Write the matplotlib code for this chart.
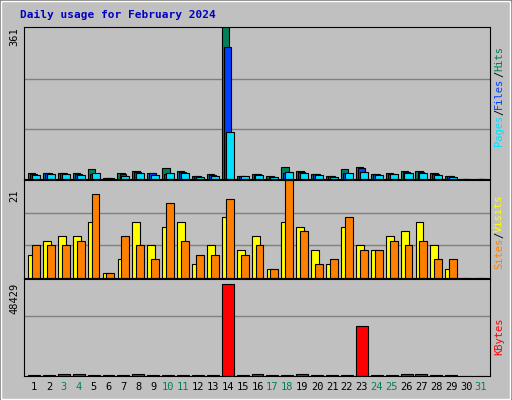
import matplotlib
matplotlib.use("Agg")
import matplotlib.pyplot as plt
from matplotlib.patches import Rectangle

days = list(range(1, 32))
hits  = [14,15,15,14,23,3,14,18,15,25,18,8,11,361,8,13,6,28,18,13,8,23,28,13,15,18,18,15,8,0,0]
files = [13,14,14,13,12,2,11,17,14,13,17,7,10,314,7,12,5,14,16,11,7,14,26,11,13,17,17,13,6,0,0]
pages = [9,11,11,10,15,2,8,14,10,14,15,5,7,112,6,10,4,16,14,9,5,15,16,9,11,14,14,10,4,0,0]
sites  = [5,8,9,9,12,1,4,12,7,11,12,3,7,13,6,9,2,12,11,6,3,11,7,6,9,10,12,7,2,0,0]
visits = [7,7,7,8,18,1,9,7,4,16,8,5,5,17,5,7,2,21,10,3,4,13,6,6,8,7,8,4,4,0,0]
kbytes = [300,300,900,900,300,300,300,900,300,300,300,300,300,48429,300,900,300,300,900,300,300,300,26400,300,300,900,900,300,300,0,0]
weekend = {3,4,10,11,17,18,24,25,31}

W, H = 512, 400
fig = plt.figure(figsize=(5.12, 4.0), dpi=100, facecolor="#C0C0C0")
fig.patches.append(Rectangle((0, 0), 1, 1, transform=fig.transFigure, fill=False, lw=2, ec="#808080"))
fig.patches.append(Rectangle((0.002, 0.003), 0.994, 0.994, transform=fig.transFigure, fill=False, lw=1, ec="white"))

def ax_px(x0, y0, x1, y1):
    return fig.add_axes([x0 / W, 1 - y1 / H, (x1 - x0) / W, (y1 - y0) / H])

def style(ax, ymax, grids):
    ax.set_facecolor("#C0C0C0")
    ax.set_xlim(0.33, 31.6)
    ax.set_ylim(0, ymax)
    for g in grids:
        ax.axhline(g, color="#808080", lw=1, zorder=0)
    ax.set_xticks([]); ax.set_yticks([])
    for s in ax.spines.values():
        s.set_color("black")

mono = "DejaVu Sans Mono"
a1 = ax_px(24, 27, 490, 179)
style(a1, 361, [361*0.33, 361*0.66])
a1.bar([d - 0.15 for d in days], hits, width=0.5, color="#00805C", ec="black", lw=0.8)
a1.bar([d - 0.03 for d in days], files, width=0.46, color="#0040FF", ec="black", lw=0.8)
a1.bar([d + 0.13 for d in days], pages, width=0.54, color="#00E0FF", ec="black", lw=0.8)

a2 = ax_px(24, 180, 490, 278)
style(a2, 21, [7, 14])
a2.bar([d - 0.13 for d in days], sites, width=0.53, color="#FFFF00", ec="black", lw=0.8)
a2.bar([d + 0.13 for d in days], visits, width=0.53, color="#FF8000", ec="black", lw=0.8)

a3 = ax_px(24, 279, 490, 376)
style(a3, 48429 * 1.06, [48429 * 0.66])
a3.bar(days, kbytes, width=0.8, color="#FF0000", ec="black", lw=0.8)
a3.set_xticks(days)
a3.set_xticklabels([str(d) for d in days], fontsize=7.5, family=mono)
for lab, d in zip(a3.get_xticklabels(), days):
    lab.set_color("#00805C" if d in weekend else "black")
a3.tick_params(axis="x", length=0, pad=4)

fig.text(20 / W, 1 - 15 / H, "Daily usage for February 2024", color="#0000C0",
         fontsize=8, family=mono, weight="bold", va="center")
for y, t in [(37, "361"), (196, "21"), (298, "48429")]:
    fig.text(14 / W, 1 - y / H, t, rotation=90, fontsize=7.5, family=mono, ha="center", va="center")

def right_label(yc, parts):
    total = sum(len(p[0]) for p in parts)
    ch = 6.2
    y = yc + total * ch / 2
    for txt, col in parts:
        n = len(txt)
        fig.text(499 / W, 1 - (y - n * ch / 2) / H, txt, rotation=90, color=col,
                 fontsize=7.5, family=mono, ha="center", va="center")
        y -= n * ch

right_label(96, [("Pages", "#00E0FF"), ("/", "black"), ("Files", "#0040FF"), ("/", "black"), ("Hits", "#00805C")])
right_label(232, [("Sites", "#FF8000"), ("/", "black"), ("Visits", "#FFFF00")])
right_label(336, [("KBytes", "#FF0000")])

fig.savefig("out.png", dpi=100, facecolor=fig.get_facecolor())
